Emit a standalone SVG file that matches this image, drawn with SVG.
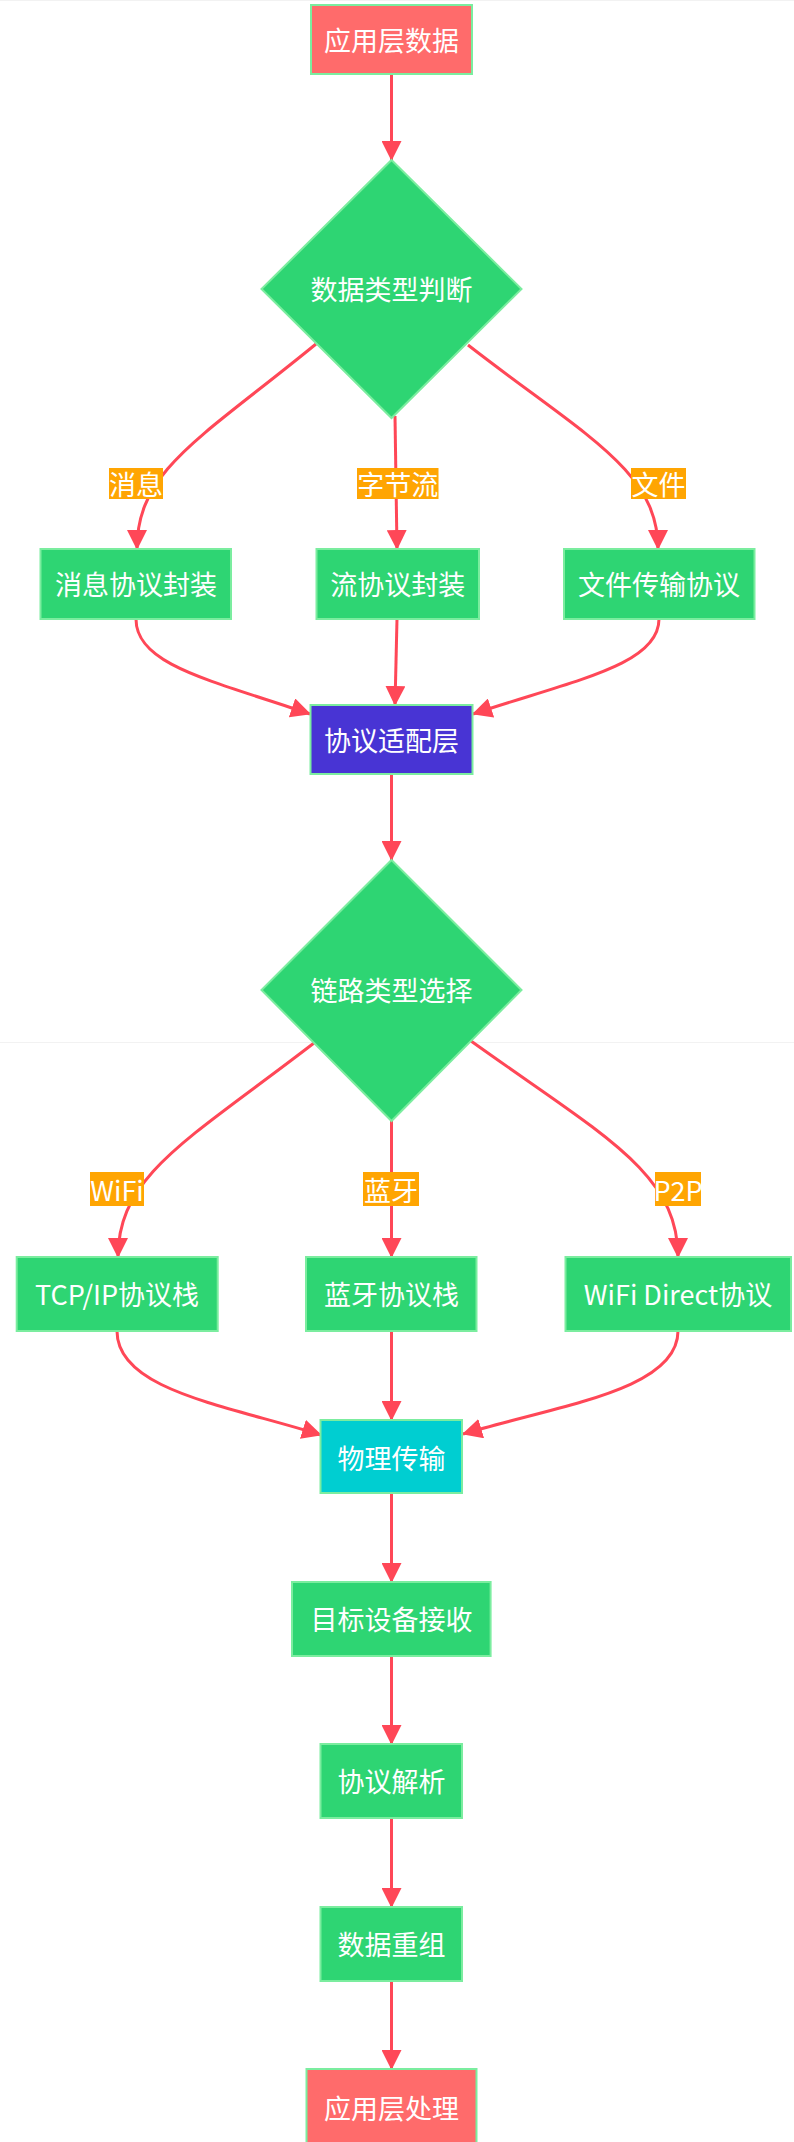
<svg xmlns="http://www.w3.org/2000/svg" width="794" height="2142" viewBox="0 0 794 2142">
<style>
.bg{fill:#ffffff}
.g rect,.g polygon{fill:#2ed573;stroke:#7bed9f;stroke-width:2}
.r rect{fill:#ff6b6b;stroke:#7bed9f;stroke-width:2}
.p rect{fill:#4834d4;stroke:#7bed9f;stroke-width:2}
.c rect{fill:#00ced1;stroke:#7bed9f;stroke-width:2}
.t{font-family:"Noto Sans CJK SC","Noto Sans",sans-serif;font-size:27px;fill:#ffffff;text-anchor:middle;dominant-baseline:central}
.e{fill:none;stroke:#ff4757;stroke-width:3;marker-end:url(#ah)}
.lb rect{fill:#ffa502}
.seam{stroke:#f2f2f2;stroke-width:1}
</style>
<defs>
<marker id="ah" markerUnits="userSpaceOnUse" markerWidth="20" markerHeight="20" viewBox="0 0 20 20" refX="19" refY="10" orient="auto">
<path d="M0,0 L20,10 L0,20 z" fill="#ff4757"/>
</marker>
</defs>
<rect class="bg" x="0" y="0" width="794" height="2142"/>
<line class="seam" x1="0" y1="0.5" x2="794" y2="0.5"/>
<line class="seam" x1="0" y1="1042.5" x2="794" y2="1042.5"/>

<g id="connectors">
<path class="e" d="M391.5,74 L391.5,160"/>
<path class="e" d="M316,344 C200,439 137,470 137,549"/>
<path class="e" d="M395,416 L397,549"/>
<path class="e" d="M468,345 C585,436 658,470 658,549"/>
<path class="e" d="M136,619 C136,665 210,680 310,714"/>
<path class="e" d="M397,619 L395,705"/>
<path class="e" d="M659,619 C659,665 575,680 473,714"/>
<path class="e" d="M391.5,774 L391.5,860"/>
<path class="e" d="M314,1043 C188,1140 118,1175 118,1257"/>
<path class="e" d="M391.5,1121 L391.5,1257"/>
<path class="e" d="M471,1041 C602,1135 678,1172 678,1257"/>
<path class="e" d="M117,1331 C117,1390 225,1405 321,1435"/>
<path class="e" d="M391.5,1331 L391.5,1420"/>
<path class="e" d="M678,1331 C678,1390 560,1405 463,1434"/>
<path class="e" d="M391.5,1493 L391.5,1582"/>
<path class="e" d="M391.5,1656 L391.5,1744"/>
<path class="e" d="M391.5,1818 L391.5,1907"/>
<path class="e" d="M391.5,1981 L391.5,2069"/>
</g>

<g id="edge-labels">
<g class="lb" id="lbl-msg"><rect x="109" y="468" width="54" height="31"/><text class="t" x="136" y="483.5">消息</text></g>
<g class="lb" id="lbl-stream"><rect x="357" y="468" width="81.5" height="31"/><text class="t" x="397.7" y="483.5">字节流</text></g>
<g class="lb" id="lbl-file"><rect x="631" y="468" width="55" height="31"/><text class="t" x="658.5" y="483.5">文件</text></g>
<g class="lb" id="lbl-wifi"><rect x="90" y="1172" width="54" height="34"/><text class="t" x="117" y="1189">WiFi</text></g>
<g class="lb" id="lbl-bt"><rect x="363" y="1172" width="56" height="34"/><text class="t" x="391" y="1189">蓝牙</text></g>
<g class="lb" id="lbl-p2p"><rect x="655" y="1172" width="46" height="34"/><text class="t" x="678" y="1189">P2P</text></g>
</g>

<g id="n-app-data" class="r"><rect x="311" y="5" width="161" height="69"/><text class="t" x="391.5" y="39.5">应用层数据</text></g>
<g id="n-type" class="g"><polygon points="391.5,160 521.5,289 391.5,418 261.5,289"/><text class="t" x="391.5" y="288">数据类型判断</text></g>
<g id="n-msg" class="g"><rect x="40.5" y="549" width="190.5" height="70"/><text class="t" x="136" y="583">消息协议封装</text></g>
<g id="n-stream" class="g"><rect x="316.5" y="549" width="162.5" height="70"/><text class="t" x="397.7" y="583">流协议封装</text></g>
<g id="n-file" class="g"><rect x="564" y="549" width="190.5" height="70"/><text class="t" x="659" y="583">文件传输协议</text></g>
<g id="n-adapt" class="p"><rect x="310.5" y="705" width="162" height="69"/><text class="t" x="391.5" y="739.5">协议适配层</text></g>
<g id="n-link" class="g"><polygon points="391.5,860 521.5,990 391.5,1121 261.5,990"/><text class="t" x="391.5" y="989">链路类型选择</text></g>
<g id="n-tcp" class="g"><rect x="16.7" y="1257" width="201" height="74"/><text class="t" x="117" y="1293">TCP/IP协议栈</text></g>
<g id="n-bt" class="g"><rect x="306" y="1257" width="170.5" height="74"/><text class="t" x="391.5" y="1293">蓝牙协议栈</text></g>
<g id="n-wfd" class="g"><rect x="565.5" y="1257" width="225.5" height="74"/><text class="t" x="678" y="1293">WiFi Direct协议</text></g>
<g id="n-phy" class="c"><rect x="320.5" y="1420" width="141.5" height="73"/><text class="t" x="391.5" y="1457">物理传输</text></g>
<g id="n-recv" class="g"><rect x="292" y="1582" width="198.6" height="74"/><text class="t" x="391.5" y="1618">目标设备接收</text></g>
<g id="n-parse" class="g"><rect x="320.5" y="1744" width="141.5" height="74"/><text class="t" x="391.5" y="1780">协议解析</text></g>
<g id="n-reasm" class="g"><rect x="320.5" y="1907" width="141.5" height="74"/><text class="t" x="391.5" y="1943">数据重组</text></g>
<g id="n-app-proc" class="r"><rect x="306.5" y="2069" width="170" height="80"/><text class="t" x="391.5" y="2107">应用层处理</text></g>
</svg>
